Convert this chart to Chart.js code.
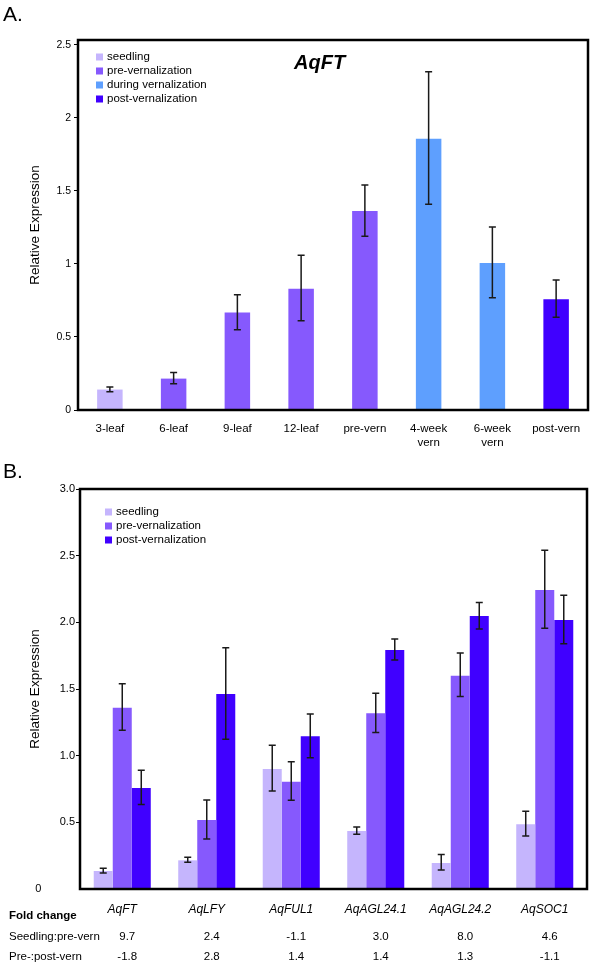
<!DOCTYPE html>
<html lang="en">
<head>
<meta charset="UTF-8">
<title>AqFT expression</title>
<script src="https://cdn.jsdelivr.net/npm/chart.js@4"></script>
<style>
  body { margin: 0; background: #fff; font-family: "Liberation Sans", Arial, sans-serif; }
  #wrap { position: relative; width: 600px; height: 966px; }
  canvas { display: block; }
  .panel { position: absolute; left: 3px; font-size: 21px; color: #000; }
</style>
</head>
<body>
<div id="wrap">
  <div class="panel" style="top:2px">A.</div>
  <canvas id="chartA" width="600" height="458"></canvas>
  <div class="panel" style="top:459px">B.</div>
  <canvas id="chartB" width="600" height="508"></canvas>
</div>
<script>
// panel A
const stagesA = ['seedling', 'pre-vernalization', 'during vernalization', 'post-vernalization']
const stageColorsA = ['#c5b5fd', '#8659fd', '#5e9ffe', '#4000ff']
const categoriesA = ['3-leaf', '6-leaf', '9-leaf', '12-leaf', 'pre-vern', ['4-week', 'vern'], ['6-week', 'vern'], 'post-vern']
const stageOfA = [0, 1, 1, 1, 1, 2, 2, 3]
const valuesA = [0.14, 0.215, 0.667, 0.83, 1.363, 1.858, 1.007, 0.758]
const lowA = [0.125, 0.18, 0.55, 0.611, 1.19, 1.409, 0.769, 0.635]
const highA = [0.158, 0.256, 0.79, 1.06, 1.541, 2.317, 1.253, 0.89]
const ticksA = [0, 0.5, 1, 1.5, 2, 2.5]
const tickLabelsA = ['0', '0.5', '1', '1.5', '2', '2.5']

// panel B
const genes = ['AqFT', 'AqLFY', 'AqFUL1', 'AqAGL24.1', 'AqAGL24.2', 'AqSOC1']
const seriesB = ['seedling', 'pre-vernalization', 'post-vernalization']
const seriesColorsB = ['#c5b5fd', '#8659fd', '#4000ff']
const seedling = [0.135, 0.215, 0.9, 0.435, 0.195, 0.485]
const seedlingLow = [0.12, 0.2, 0.735, 0.41, 0.143, 0.398]
const seedlingHigh = [0.155, 0.238, 1.078, 0.465, 0.258, 0.583]
const preVern = [1.36, 0.518, 0.805, 1.318, 1.6, 2.243]
const preLow = [1.19, 0.375, 0.665, 1.173, 1.443, 1.955]
const preHigh = [1.54, 0.668, 0.955, 1.468, 1.77, 2.54]
const postVern = [0.758, 1.463, 1.145, 1.793, 2.048, 2.018]
const postLow = [0.633, 1.123, 0.985, 1.718, 1.95, 1.84]
const postHigh = [0.89, 1.81, 1.313, 1.875, 2.148, 2.203]
const ticksB = [0, 0.5, 1, 1.5, 2, 2.5, 3]
const tickLabelsB = ['0', '0.5', '1.0', '1.5', '2.0', '2.5', '3.0']
const foldRows = ['Seedling:pre-vern', 'Pre-:post-vern']
const foldSeedPre = ['9.7', '2.4', '-1.1', '3.0', '8.0', '4.6']
const foldPrePost = ['-1.8', '2.8', '1.4', '1.4', '1.3', '-1.1']

const FONT = '"Liberation Sans", Arial, sans-serif'
Chart.defaults.font.family = FONT
Chart.defaults.color = '#000'

// box around the plot + error bars + inside legend
const extras = {
  id: 'extras',
  afterDatasetsDraw(chart, args, opts) {
    const ctx = chart.ctx
    const y = chart.scales.y
    ctx.save()
    ctx.strokeStyle = '#1a1a1a'
    ctx.lineWidth = 1.5
    chart.data.datasets.forEach((ds, di) => {
      const meta = chart.getDatasetMeta(di)
      meta.data.forEach((bar, i) => {
        const top = y.getPixelForValue(ds.errHigh[i])
        const bot = y.getPixelForValue(ds.errLow[i])
        ctx.beginPath()
        ctx.moveTo(bar.x, top); ctx.lineTo(bar.x, bot)
        ctx.moveTo(bar.x - 3.5, top); ctx.lineTo(bar.x + 3.5, top)
        ctx.moveTo(bar.x - 3.5, bot); ctx.lineTo(bar.x + 3.5, bot)
        ctx.stroke()
      })
    })
    const a = chart.chartArea
    ctx.strokeStyle = '#000'
    ctx.lineWidth = 2.5
    ctx.strokeRect(a.left, a.top, a.right - a.left, a.bottom - a.top)

    ctx.font = '11.5px ' + FONT
    ctx.textBaseline = 'middle'
    ctx.textAlign = 'left'
    opts.labels.forEach((txt, i) => {
      const ly = a.top + opts.dy + i * 14
      ctx.fillStyle = opts.colors[i]
      ctx.fillRect(a.left + opts.dx, ly - 3.5, 7, 7)
      ctx.fillStyle = '#000'
      ctx.fillText(txt, a.left + opts.dx + 11, ly)
    })
    if (opts.title) {
      ctx.font = 'italic bold 20px ' + FONT
      ctx.fillText(opts.title, a.left + 216, a.top + 23)
    }
    ctx.restore()
  }
}

function yScale(max, ticks, labels, width, pad, tickFont, zeroShift) {
  return {
    min: 0, max: max,
    afterBuildTicks: s => { s.ticks = ticks.map(v => ({ value: v })) },
    afterFit: s => { s.width = width },
    ticks: {
      padding: pad,
      font: { size: tickFont },
      callback: v => {
        const t = labels[ticks.indexOf(v)]
        return v === 0 && zeroShift ? t + ' '.repeat(zeroShift) : t
      }
    },
    grid: {
      drawOnChartArea: false, drawTicks: true, tickLength: 4,
      color: ctx => (zeroShift && ctx.tick && ctx.tick.value === 0) ? 'rgba(0,0,0,0)' : '#000'
    },
    border: { display: false },
    title: { display: true, text: 'Relative Expression', font: { size: 13.5 }, padding: { top: 27, bottom: 0 } }
  }
}

new Chart(document.getElementById('chartA'), {
  type: 'bar',
  data: {
    labels: categoriesA,
    datasets: [{
      data: valuesA,
      errLow: lowA,
      errHigh: highA,
      backgroundColor: stageOfA.map(s => stageColorsA[s]),
      barPercentage: 0.4,
      categoryPercentage: 1
    }]
  },
  options: {
    responsive: false,
    animation: false,
    devicePixelRatio: 1,
    layout: { padding: { left: 0, right: 12, top: 40, bottom: 0 } },
    plugins: {
      legend: { display: false },
      tooltip: { enabled: false },
      extras: { labels: stagesA, colors: stageColorsA, dx: 18, dy: 17, title: 'AqFT' }
    },
    scales: {
      x: {
        grid: { display: false },
        border: { display: false },
        ticks: { padding: 4, font: { size: 11.5 }, maxRotation: 0 },
        afterFit: s => { s.height = 48 }
      },
      y: yScale(2.534, ticksA, tickLabelsA, 78, 3, 10.5, 0)
    }
  },
  plugins: [extras]
})

const tableB = {
  id: 'tableB',
  afterDraw(chart) {
    const ctx = chart.ctx
    const x = chart.scales.x
    const base = chart.chartArea.bottom
    ctx.save()
    ctx.fillStyle = '#000'
    ctx.textBaseline = 'middle'
    ctx.textAlign = 'left'
    ctx.font = 'bold 11.5px ' + FONT
    ctx.fillText('Fold change', 9, base + 27)
    ctx.font = '11.5px ' + FONT
    ctx.fillText(foldRows[0], 9, base + 48)
    ctx.fillText(foldRows[1], 9, base + 68)
    ctx.textAlign = 'center'
    genes.forEach((g, i) => {
      const cx = x.getPixelForValue(i) + 5
      ctx.fillText(foldSeedPre[i], cx, base + 48)
      ctx.fillText(foldPrePost[i], cx, base + 68)
    })
    ctx.restore()
  }
}

new Chart(document.getElementById('chartB'), {
  type: 'bar',
  data: {
    labels: genes,
    datasets: [
      { label: seriesB[0], data: seedling, errLow: seedlingLow, errHigh: seedlingHigh, backgroundColor: seriesColorsB[0] },
      { label: seriesB[1], data: preVern, errLow: preLow, errHigh: preHigh, backgroundColor: seriesColorsB[1] },
      { label: seriesB[2], data: postVern, errLow: postLow, errHigh: postHigh, backgroundColor: seriesColorsB[2] }
    ]
  },
  options: {
    responsive: false,
    animation: false,
    devicePixelRatio: 1,
    datasets: { bar: { barPercentage: 1, categoryPercentage: 0.675 } },
    layout: { padding: { left: 0, right: 13, top: 31, bottom: 0 } },
    plugins: {
      legend: { display: false },
      tooltip: { enabled: false },
      extras: { labels: seriesB, colors: seriesColorsB, dx: 25, dy: 23 }
    },
    scales: {
      x: {
        grid: { display: false },
        border: { display: false },
        ticks: { padding: 5, font: { size: 12, style: 'italic' }, maxRotation: 0 },
        afterFit: s => { s.height = 77 }
      },
      y: yScale(3, ticksB, tickLabelsB, 80, 1, 11, 11)
    }
  },
  plugins: [extras, tableB]
})
</script>
</body>
</html>
